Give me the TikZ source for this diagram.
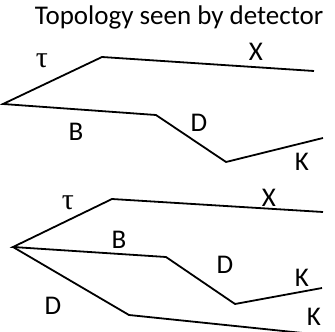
\documentclass[tikz,border=0pt]{standalone}
\usepackage{fontspec}
\setmainfont{Carlito}
\newfontfamily\greekfont{Liberation Serif}
\begin{document}
\begin{tikzpicture}[x=1pt,y=-1pt,
  trk/.style={line width=1.8pt,line join=miter},
  lbl/.style={font=\fontsize{27}{29}\selectfont,inner sep=0pt},
  glbl/.style={font=\greekfont\fontsize{30}{32}\selectfont,inner sep=0pt},
  ttl/.style={font=\fontsize{27}{30}\selectfont,inner sep=0pt}]
\useasboundingbox (0,0) rectangle (335,332);
\node[ttl] (title) at (179,17) {Topology seen by detector};
% top topology
\coordinate (v1) at (3,104);
\coordinate (t1) at (102,57);
\coordinate (x1) at (314,71);
\coordinate (b1) at (156,115);
\coordinate (d1) at (226,162);
\coordinate (k1) at (323,138);
\draw[trk] (x1) -- (t1) -- (v1) -- (b1) -- (d1) -- (k1);
\node[glbl] (tau1) at (42,61) {τ};
\node[lbl] (X1) at (256,52) {X};
\node[lbl] (B1) at (76,132) {B};
\node[lbl] (D1) at (199,123) {D};
\node[lbl] (K1) at (302,162) {K};
% bottom topology
\coordinate (v2) at (13,247);
\coordinate (t2) at (112,199);
\coordinate (x2) at (323,212);
\coordinate (b2) at (166,257);
\coordinate (d2) at (235,304);
\coordinate (k2) at (322,288);
\coordinate (e2) at (129,315);
\coordinate (f2) at (322,335);
\draw[trk] (x2) -- (t2) -- (v2) -- (b2) -- (d2) -- (k2);
\draw[trk] (v2) -- (e2) -- (f2);
\node[glbl] (tau2) at (68,203) {τ};
\node[lbl] (X2) at (269,198) {X};
\node[lbl] (B2) at (119,240) {B};
\node[lbl] (D2) at (225,265) {D};
\node[lbl] (K2) at (302,278) {K};
\node[lbl] (D3) at (53,306) {D};
\node[lbl] (K3) at (314,317) {K};
\end{tikzpicture}
\end{document}
